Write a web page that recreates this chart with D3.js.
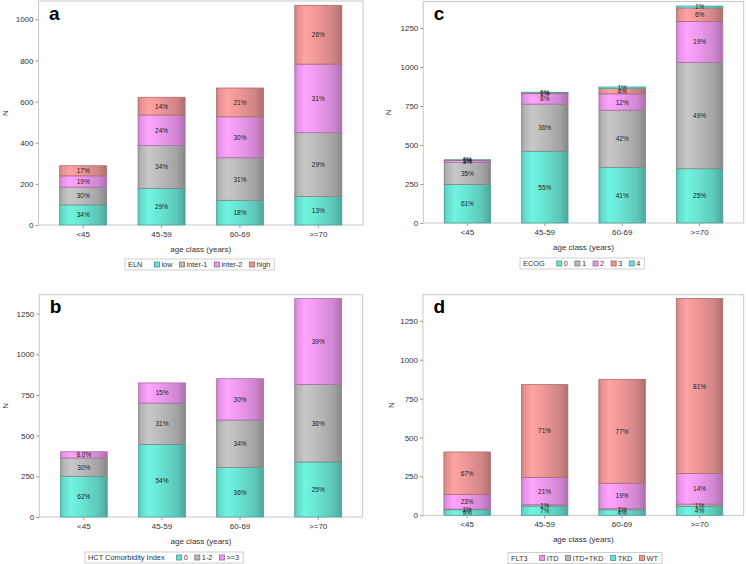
<!DOCTYPE html>
<html><head><meta charset="utf-8">
<script src="https://cdn.jsdelivr.net/npm/d3@7"></script>
<style>
body{margin:0;background:#fff}
svg{display:block}
text{font-family:"Liberation Sans",Arial,sans-serif}
</style>
</head><body>
<svg id="chart" width="746" height="564"></svg>
<script>
// ---------- data ----------
const ageClasses = ["<45", "45-59", "60-69", ">=70"];

// Panel a : ELN
const elnGroups = ["low", "inter-1", "inter-2", "high"];
const elnLow    = [98, 178, 120, 139];
const elnInter1 = [86, 208, 207, 310];
const elnInter2 = [55, 149, 199, 333];
const elnHigh   = [49, 86, 140, 286];
const elnPctLow    = ["34%", "29%", "18%", "13%"];
const elnPctInter1 = ["30%", "34%", "31%", "29%"];
const elnPctInter2 = ["19%", "24%", "30%", "31%"];
const elnPctHigh   = ["17%", "14%", "21%", "26%"];
const elnTicks = [0, 200, 400, 600, 800, 1000];

// Panel c : ECOG
const ecogGroups = ["0", "1", "2", "3", "4"];
const ecog0 = [247, 460, 357, 348];
const ecog1 = [142, 302, 366, 682];
const ecog2 = [11, 67, 105, 262];
const ecog3 = [4, 6, 35, 87];
const ecog4 = [1, 3, 9, 12];
const ecogPct0 = ["61%", "55%", "41%", "25%"];
const ecogPct1 = ["35%", "36%", "42%", "49%"];
const ecogPct2 = ["3%", "8%", "12%", "19%"];
const ecogPct3 = ["1%", "1%", "4%", "6%"];
const ecogPct4 = ["0%", "0%", "1%", "1%"];
const ecogTicks = [0, 250, 500, 750, 1000, 1250];

// Panel b : HCT Comorbidity Index
const hctGroups = ["0", "1-2", ">=3"];
const hct0   = [250, 446, 305, 338];
const hct12  = [113, 254, 291, 476];
const hct3   = [38, 124, 254, 528];
const hctPct0  = ["62%", "54%", "36%", "25%"];
const hctPct12 = ["30%", "31%", "34%", "36%"];
const hctPct3  = ["8.0%", "15%", "30%", "39%"];
const hctTicks = [0, 250, 500, 750, 1000, 1250];

// Panel d : FLT3 (legend order) and stacking order bottom->top
const flt3Legend = ["ITD", "ITD+TKD", "TKD", "WT"];
const flt3Stack  = ["TKD", "ITD+TKD", "ITD", "WT"];
const flt3TKD    = [36, 59, 35, 58];
const flt3ITDTKD = [4, 9, 8, 14];
const flt3ITD    = [94, 176, 163, 197];
const flt3WT     = [273, 596, 668, 1124];
const flt3PctTKD    = ["9%", "7%", "4%", "4%"];
const flt3PctITDTKD = ["1%", "1%", "1%", "1%"];
const flt3PctITD    = ["23%", "21%", "19%", "14%"];
const flt3PctWT     = ["67%", "71%", "77%", "81%"];
const flt3Ticks = [0, 250, 500, 750, 1000, 1250];

// ---------- styling ----------
const TEAL = "#68e2d1", GRAY = "#b9b9b9", PINK = "#ec98ec", RED = "#ec9696", CYAN = "#6ae4dc";

const svg = d3.select("#chart");
const defs = svg.append("defs");
const gradCache = {};
function gradFor(color) {
  if (gradCache[color]) return gradCache[color];
  const id = "g" + Object.keys(gradCache).length;
  const c = d3.color(color);
  const lg = defs.append("linearGradient").attr("id", id).attr("x1", "0").attr("x2", "1").attr("y1", "0").attr("y2", "0");
  [[0, c.darker(0.45)], [0.06, c.darker(0.1)], [0.22, c.brighter(0.22)], [0.5, c], [0.82, c.darker(0.35)], [0.95, c.darker(0.7)], [1, c.darker(0.9)]]
    .forEach(([o, col]) => lg.append("stop").attr("offset", o).attr("stop-color", col.formatHex()));
  gradCache[color] = "url(#" + id + ")";
  return gradCache[color];
}

const panels = [
  { letter: "a", left: 38.5, right: 363, top: 1, bottom: 225, ymax: 1089, ticks: elnTicks,
    keys: elnGroups, values: [elnLow, elnInter1, elnInter2, elnHigh],
    pcts: [elnPctLow, elnPctInter1, elnPctInter2, elnPctHigh],
    colors: [TEAL, GRAY, PINK, RED], legendTitle: "ELN", legendKeys: elnGroups,
    legendX: 125, legendY: 259, yTitleX: 5 },
  { letter: "c", left: 423.3, right: 743.7, top: 1.5, bottom: 223, ymax: 1420, ticks: ecogTicks,
    keys: ecogGroups, values: [ecog0, ecog1, ecog2, ecog3, ecog4],
    pcts: [ecogPct0, ecogPct1, ecogPct2, ecogPct3, ecogPct4],
    colors: [TEAL, GRAY, PINK, RED, CYAN], legendTitle: "ECOG", legendKeys: ecogGroups,
    legendX: 520, legendY: 258, yTitleX: 388 },
  { letter: "b", left: 39.3, right: 362.7, top: 294.7, bottom: 517, ymax: 1366, ticks: hctTicks,
    keys: hctGroups, values: [hct0, hct12, hct3],
    pcts: [hctPct0, hctPct12, hctPct3],
    colors: [TEAL, GRAY, PINK], legendTitle: "HCT Comorbidity Index", legendKeys: hctGroups,
    legendX: 85, legendY: 552, yTitleX: 5 },
  { letter: "d", left: 423, right: 743.7, top: 294.7, bottom: 515.3, ymax: 1418, ticks: flt3Ticks,
    keys: flt3Stack, values: [flt3TKD, flt3ITDTKD, flt3ITD, flt3WT],
    pcts: [flt3PctTKD, flt3PctITDTKD, flt3PctITD, flt3PctWT],
    colors: [TEAL, GRAY, PINK, RED], legendTitle: "FLT3", legendKeys: flt3Legend,
    legendX: 508, legendY: 552.5, yTitleX: 391 }
];

function drawPanel(p) {
  const g = svg.append("g");
  const colorOf = d3.scaleOrdinal().domain(p.keys).range(p.colors);
  const x = d3.scaleBand().domain(ageClasses).range([p.left, p.right]).paddingInner(0.4).paddingOuter(0.27);
  const y = d3.scaleLinear().domain([0, p.ymax]).range([p.bottom, p.top]);

  // frame
  g.append("rect").attr("x", p.left).attr("y", p.top)
    .attr("width", p.right - p.left).attr("height", p.bottom - p.top)
    .attr("fill", "#fff").attr("stroke", "#c9c9c9").attr("stroke-width", 1);

  const rows = ageClasses.map((a, i) => {
    const r = { age: a, idx: i };
    p.keys.forEach((k, j) => { r[k] = p.values[j][i]; });
    return r;
  });
  const series = d3.stack().keys(p.keys)(rows);

  series.forEach((s) => {
    const col = colorOf(s.key);
    g.append("g").selectAll("rect").data(s).join("rect")
      .attr("x", d => x(d.data.age))
      .attr("width", x.bandwidth())
      .attr("y", d => y(d[1]))
      .attr("height", d => Math.max(0, y(d[0]) - y(d[1])))
      .attr("fill", gradFor(col))
      .attr("stroke", d3.color(col).darker(0.9).formatHex())
      .attr("stroke-width", 0.8);
  });
  series.forEach((s, si) => {
    g.append("g").selectAll("text").data(s).join("text")
      .attr("x", d => x(d.data.age) + x.bandwidth() / 2)
      .attr("y", d => (y(d[0]) + y(d[1])) / 2)
      .attr("text-anchor", "middle").attr("dominant-baseline", "central")
      .attr("font-size", 6.5).attr("fill", "#222")
      .text(d => p.pcts[si][d.data.idx]);
  });

  // y axis
  const ya = g.append("g").attr("transform", `translate(${p.left},0)`)
    .call(d3.axisLeft(y).tickValues(p.ticks).tickSize(3).tickPadding(2).tickFormat(d3.format("d")));
  ya.select(".domain").remove();
  ya.selectAll("line").attr("stroke", "#9a9a9a");
  ya.selectAll("text").attr("font-size", 8).attr("fill", "#333")
    .attr("font-family", "'Liberation Sans',Arial,sans-serif");

  // x axis
  const xa = g.append("g").attr("transform", `translate(0,${p.bottom})`)
    .call(d3.axisBottom(x).tickSize(3).tickPadding(3));
  xa.select(".domain").remove();
  xa.selectAll("line").attr("stroke", "#9a9a9a");
  xa.selectAll("text").attr("font-size", 8).attr("fill", "#333")
    .attr("font-family", "'Liberation Sans',Arial,sans-serif");

  // titles
  g.append("text").attr("x", (p.left + p.right) / 2).attr("y", p.bottom + 27)
    .attr("text-anchor", "middle").attr("font-size", 8).attr("fill", "#333")
    .text("age class (years)");
  g.append("text").attr("transform", `translate(${p.yTitleX + 3},${(p.top + p.bottom) / 2}) rotate(-90)`)
    .attr("text-anchor", "middle").attr("font-size", 8).attr("fill", "#333").text("N");
  g.append("text").attr("x", p.left + 10.5).attr("y", p.top + 18.5)
    .attr("font-size", 19).attr("font-weight", "bold").attr("fill", "#000").text(p.letter);

  // legend
  const fs = 7.4;
  const lg = g.append("g").attr("transform", `translate(${p.legendX},${p.legendY})`);
  const box = lg.append("rect").attr("x", 0).attr("y", 0).attr("height", 11)
    .attr("fill", "#fff").attr("stroke", "#cfcfcf").attr("stroke-width", 1);
  const t = lg.append("text").attr("x", 3).attr("y", 8).attr("font-size", fs).attr("fill", "#333").text(p.legendTitle);
  let cx = 3 + t.node().getComputedTextLength() + 12;
  p.legendKeys.forEach(k => {
    const col = colorOf(k);
    lg.append("rect").attr("x", cx).attr("y", 3).attr("width", 5).attr("height", 5)
      .attr("fill", col).attr("stroke", d3.color(col).darker(1.2).formatHex()).attr("stroke-width", 0.8);
    const tt = lg.append("text").attr("x", cx + 7).attr("y", 8).attr("font-size", fs).attr("fill", "#333").text(k);
    cx += 7 + tt.node().getComputedTextLength() + 7;
  });
  box.attr("width", cx - 3);
}

panels.forEach(drawPanel);
</script>
</body></html>
